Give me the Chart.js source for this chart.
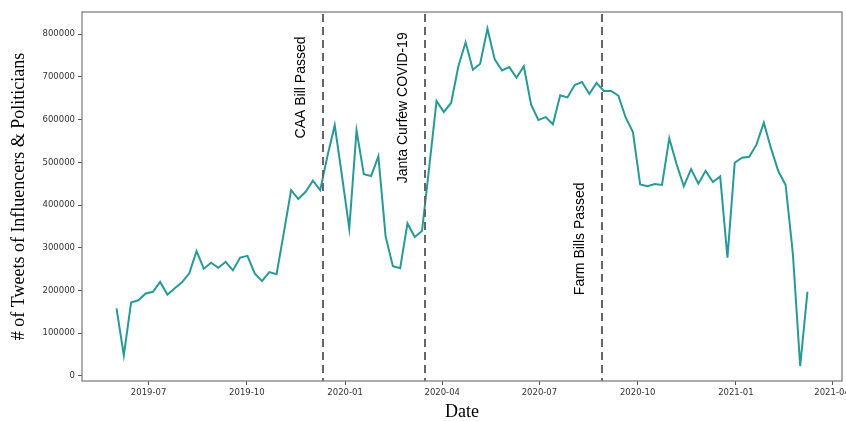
<!DOCTYPE html>
<html><head><meta charset="utf-8">
<script src="https://cdn.jsdelivr.net/npm/chart.js@4.4.1/dist/chart.umd.min.js"></script>
<style>html,body{margin:0;padding:0;background:#fff}#wrap{width:846px;height:421px;position:relative}</style>
</head><body><div id="wrap"><canvas id="c"></canvas></div>
<script>
// ---- data ----
const firstDate = '2019-06-01';
const lastDate = '2021-03-09';
const tweets = [
  158000, 48000, 172000, 177000, 193000, 197000, 220000, 190000, 205000, 219000,
  240000, 292000, 251000, 265000, 253000, 267000, 247000, 277000, 281000, 240000,
  222000, 243000, 238000, 335000, 435000, 414000, 431000, 457000, 435000, 515000,
  587000, 468000, 345000, 575000, 472000, 468000, 514000, 326000, 257000, 252000,
  357000, 325000, 339000, 490000, 644000, 618000, 639000, 725000, 781000, 717000,
  731000, 813000, 741000, 715000, 723000, 698000, 725000, 635000, 599000, 606000,
  589000, 657000, 652000, 681000, 688000, 660000, 686000, 667000, 667000, 656000,
  605000, 571000, 448000, 444000, 449000, 447000, 556000, 496000, 444000, 484000,
  450000, 480000, 454000, 467000, 277000, 499000, 511000, 513000, 542000, 593000,
  532000, 479000, 447000, 285000, 23000, 197000
];
const xTickLabels = ['2019-07','2019-10','2020-01','2020-04','2020-07','2020-10','2021-01','2021-04'];
const yTickValues = [0, 100000, 200000, 300000, 400000, 500000, 600000, 700000, 800000];
const eventDates = ['2019-12-11', '2020-03-16', '2020-08-29'];
const eventLabels = ['CAA Bill Passed', 'Janta Curfew COVID-19', 'Farm Bills Passed'];
const eventLabelY = [556000, 451000, 189000];

// ---- helpers ----
function dayNum(s) {
  const p = s.split('-').map(Number);
  return Date.UTC(p[0], p[1] - 1, p[2] || 1) / 86400000;
}
const d0 = dayNum(firstDate), d1 = dayNum(lastDate);
const step = (d1 - d0) / (tweets.length - 1);
const points = tweets.map((v, i) => ({ x: d0 + i * step, y: v }));
const span = d1 - d0;

const overlay = {
  id: 'overlay',
  afterDatasetsDraw(chart) {
    const { ctx, chartArea: a, scales: { x, y } } = chart;
    ctx.save();
    ctx.strokeStyle = '#666666';
    ctx.lineWidth = 2;
    ctx.setLineDash([8, 5]);
    eventDates.forEach((d) => {
      const px = Math.round(x.getPixelForValue(dayNum(d)));
      ctx.beginPath();
      ctx.moveTo(px, a.top + 2);
      ctx.lineTo(px, a.bottom);
      ctx.stroke();
    });
    ctx.setLineDash([]);
    ctx.fillStyle = '#000';
    ctx.font = '14px "Liberation Sans", Arial, sans-serif';
    ctx.textAlign = 'left';
    ctx.textBaseline = 'middle';
    eventDates.forEach((d, i) => {
      const px = x.getPixelForValue(dayNum(d)) - 22;
      const py = y.getPixelForValue(eventLabelY[i]);
      ctx.save();
      ctx.translate(px, py);
      ctx.rotate(-Math.PI / 2);
      ctx.fillText(eventLabels[i], 0, 0);
      ctx.restore();
    });
    ctx.strokeStyle = '#808080';
    ctx.lineWidth = 1.3;
    ctx.strokeRect(a.left, a.top, a.right - a.left, a.bottom - a.top);
    ctx.restore();
  }
};

new Chart(document.getElementById('c'), {
  type: 'line',
  data: {
    datasets: [{
      data: points,
      borderColor: '#279a97',
      borderWidth: 2,
      pointRadius: 0,
      tension: 0,
      fill: false
    }]
  },
  options: {
    responsive: true,
    maintainAspectRatio: false,
    animation: false,
    layout: { padding: { top: 12, right: 4, left: 0, bottom: 0 } },
    plugins: { legend: { display: false }, tooltip: { enabled: false } },
    scales: {
      x: {
        type: 'linear',
        min: d0 - 0.05 * span,
        max: d1 + 0.05 * span,
        afterBuildTicks(scale) {
          scale.ticks = xTickLabels.map((l) => ({ value: dayNum(l + '-01') }));
        },
        afterFit(scale) { scale.height = 40; scale.paddingLeft = 0; scale.paddingRight = 0; },
        ticks: {
          autoSkip: false, maxRotation: 0, padding: 3,
          color: '#333',
          font: { family: 'DejaVu Sans', size: 8.5 },
          callback: (v, i) => xTickLabels[i]
        },
        grid: { drawOnChartArea: false, drawTicks: true, tickLength: 4, color: '#555' },
        border: { display: false },
        title: {
          display: true, text: 'Date', color: '#000',
          font: { family: 'Liberation Serif', size: 18, lineHeight: 1 },
          padding: { top: 0, bottom: 0 }
        }
      },
      y: {
        type: 'linear',
        min: -12000,
        max: 852000,
        afterBuildTicks(scale) {
          scale.ticks = yTickValues.map((v) => ({ value: v }));
        },
        afterFit(scale) { scale.width = 82; scale.paddingTop = 0; scale.paddingBottom = 0; },
        ticks: {
          padding: 3, color: '#333',
          font: { family: 'DejaVu Sans', size: 8.5 },
          callback: (v) => String(v)
        },
        grid: { drawOnChartArea: false, drawTicks: true, tickLength: 4, color: '#555' },
        border: { display: false },
        title: {
          display: true, text: '# of Tweets of Influencers & Politicians', color: '#000',
          font: { family: 'Liberation Serif', size: 18, lineHeight: 1.2 },
          padding: { top: 8, bottom: 0 }
        }
      }
    }
  },
  plugins: [overlay]
});
</script>
</body></html>
